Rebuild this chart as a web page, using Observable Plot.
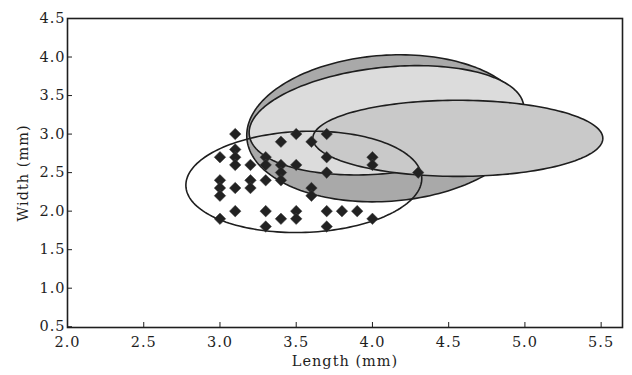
<!DOCTYPE html>
<html><head><meta charset="utf-8">
<script src="https://cdn.jsdelivr.net/npm/d3@7"></script>
<script src="https://cdn.jsdelivr.net/npm/@observablehq/plot@0.6"></script>
<style>
html,body{margin:0;padding:0;background:#fff;}
#chart{width:632px;height:375px;}
#chart svg text{letter-spacing:1px;}
</style></head><body><div id="chart"></div>
<script>
// ---- data ----
const pointLength = [3.1,3.4,3.5,3.6,3.7, 3.0,3.1,3.1,3.1,3.2,3.3,3.3,3.4,3.4,3.5,3.7,3.7,4.0,4.0,4.3,
  3.0,3.0,3.0,3.1,3.2,3.2,3.3,3.4,3.6,3.6, 3.0,3.1,3.3,3.3,3.4,3.5,3.5,3.7,3.8,3.9,4.0,3.7];
const pointWidth  = [3.0,2.9,3.0,2.9,3.0, 2.7,2.8,2.7,2.6,2.6,2.7,2.6,2.6,2.5,2.6,2.7,2.5,2.7,2.6,2.5,
  2.4,2.3,2.2,2.3,2.4,2.3,2.4,2.4,2.3,2.2, 1.9,2.0,2.0,1.8,1.9,2.0,1.9,2.0,2.0,2.0,1.9,1.8];
const ellipseNames  = ["outer","inner","right","open"];
const ellipseCx     = [4.092, 4.092, 4.56, 3.55];
const ellipseCy     = [3.075, 3.179, 2.945, 2.38];
const ellipseRx     = [0.918, 0.905, 0.951, 0.774];
const ellipseRy     = [0.948, 0.688, 0.494, 0.656];
const ellipseAngle  = [4, 6, 0, 2];
const xTicks = [2.0,2.5,3.0,3.5,4.0,4.5,5.0,5.5];
const yTicks = [0.5,1.0,1.5,2.0,2.5,3.0,3.5,4.0,4.5];
const xLabel = "Length (mm)";
const yLabel = "Width (mm)";

// ---- layout / style ----
const W = 632, H = 375, mL = 67, mR = 10, mT = 18, mB = 48;
const xDom = [2.0, 5.64], yDom = [0.49, 4.5];
const fills = {outer: "#a9a9a9", inner: "#dcdcdc", right: "#c9c9c9", open: "none"};
const font = "'DejaVu Serif', serif";

// aspect ratio (pixels per y unit / pixels per x unit), to draw tilted ellipses
const kx = (W - mL - mR) / (xDom[1] - xDom[0]);
const ky = (H - mT - mB) / (yDom[1] - yDom[0]);
const r = ky / kx;

function ellipseOutline(i) {
  const pts = [];
  const th = ellipseAngle[i] * Math.PI / 180;
  const A = ellipseRx[i], B = ellipseRy[i] * r;
  for (let k = 0; k <= 180; k++) {
    const t = 2 * Math.PI * k / 180;
    const X = ellipseCx[i] + A * Math.cos(t) * Math.cos(th) - B * Math.sin(t) * Math.sin(th);
    const Y = ellipseCy[i] * r + A * Math.cos(t) * Math.sin(th) + B * Math.sin(t) * Math.cos(th);
    pts.push({name: ellipseNames[i], x: X, y: Y / r});
  }
  return pts;
}
const points = pointLength.map((x, i) => ({x, y: pointWidth[i]}));

const marks = [];
ellipseNames.forEach((n, i) => {
  marks.push(Plot.line(ellipseOutline(i), {x: "x", y: "y", curve: "linear-closed",
    fill: fills[n], stroke: "#1e1e1e", strokeWidth: 1.6}));
});
marks.push(Plot.dot(points, {x: "x", y: "y", symbol: "diamond2", r: 5.2, fill: "#222", stroke: "#444", strokeWidth: 0.5}));
marks.push(Plot.frame({stroke: "#1e1e1e", strokeWidth: 1.6}));
marks.push(Plot.axisX(xTicks, {tickSize: -5, tickPadding: 14, tickFormat: d3.format(".1f"),
  fontSize: 14.5, label: xLabel, labelAnchor: "center", labelArrow: "none", labelOffset: 38, stroke: "#1e1e1e"}));
marks.push(Plot.axisY(yTicks, {tickSize: -5, tickPadding: 7, tickFormat: d3.format(".1f"),
  fontSize: 14.5, label: yLabel, labelAnchor: "center", labelArrow: "none", labelOffset: 50, stroke: "#1e1e1e"}));

const chart = Plot.plot({
  width: W, height: H,
  marginLeft: mL, marginRight: mR, marginTop: mT, marginBottom: mB,
  style: {fontFamily: font, fontSize: "14.5px", color: "#1e1e1e", background: "#fff"},
  x: {domain: xDom},
  y: {domain: yDom},
  marks
});
document.getElementById("chart").appendChild(chart);
</script>
</body></html>
